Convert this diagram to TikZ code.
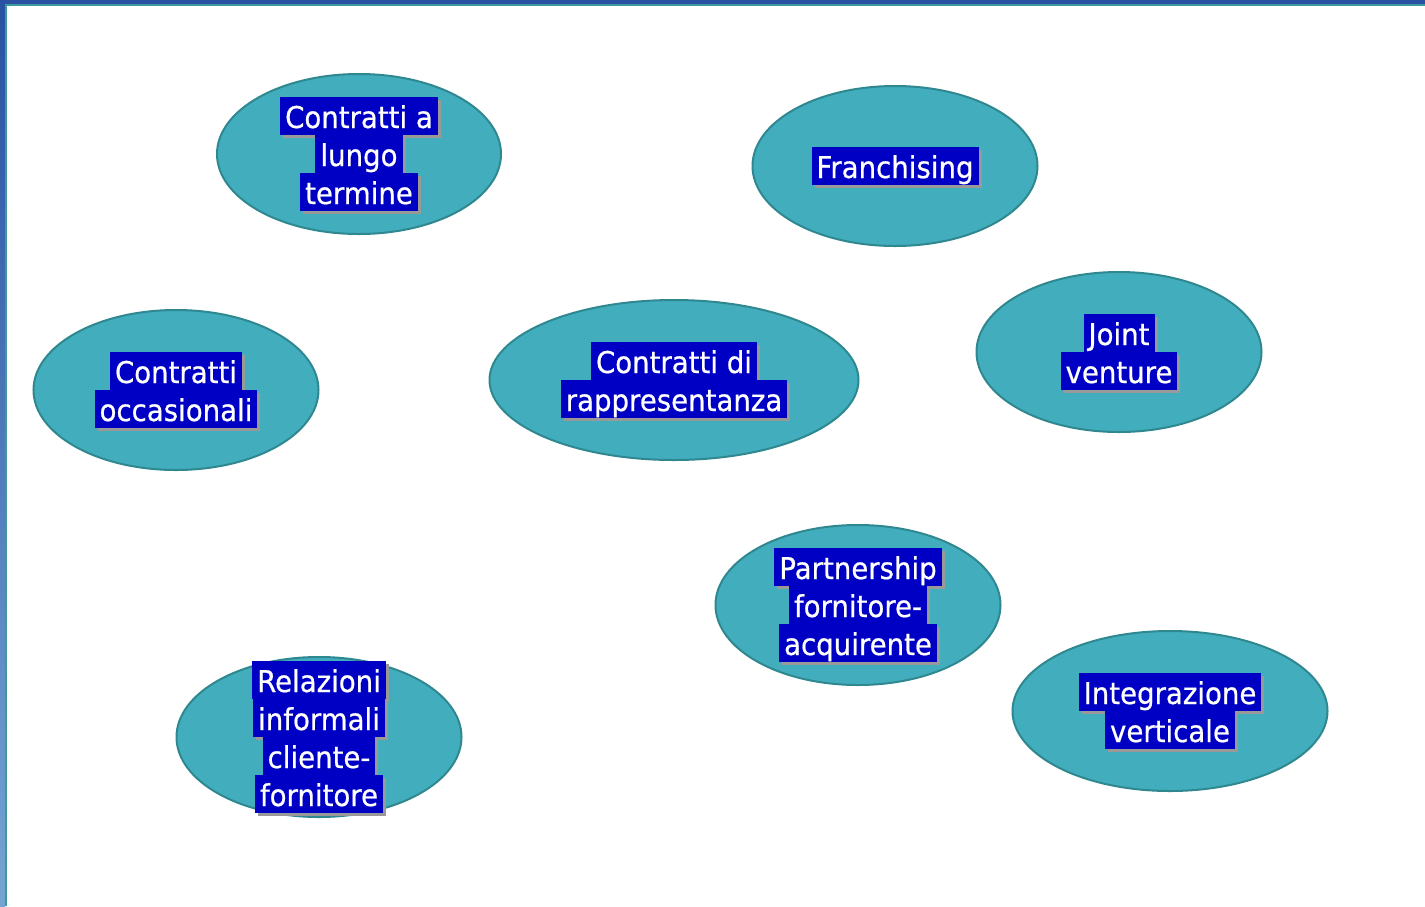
\documentclass[tikz,border=0pt]{standalone}
\usepackage{fontspec}
\setmainfont[FakeStretch=0.92,FakeBold=0.6]{DejaVu Sans}
\definecolor{blobfill}{HTML}{42AEBD}
\definecolor{blobline}{HTML}{2F8890}
\definecolor{hlblue}{HTML}{0000C4}
\definecolor{framebl}{HTML}{2A51A2}
\definecolor{framelt}{HTML}{76A4D2}
\definecolor{frametl}{HTML}{3A9AA0}
\newlength\hlw
% one highlighted line with its shadow
\newcommand\hl[1]{\sbox0{\setlength\fboxsep{0pt}\colorbox{hlblue}{\rule[-7pt]{0pt}{38pt}\,#1\,}}%
  \setlength\hlw{\wd0}%
  \makebox[0pt][l]{\hspace{3pt}\smash{\raisebox{-3pt}{\color{black!40}\rule[-7pt]{\hlw}{38pt}}}}\usebox0}
\tikzset{
  blob/.style={ellipse,draw=blobline,line width=2pt,fill=blobfill,minimum height=160pt,inner sep=0pt},
  lbl/.style={text=white,align=center,inner sep=0pt,font=\fontsize{30}{38}\selectfont}
}
\usetikzlibrary{shapes.geometric}
\begin{document}
\begin{tikzpicture}[x=1pt,y=-1pt]
\useasboundingbox (0,0) rectangle (1425,906);
\fill[white] (0,0) rectangle (1425,906);
% frame
\shade[top color=framebl,bottom color=framelt] (0,0) rectangle (5,906);
\fill[framebl] (0,0) rectangle (1425,4);
\draw[frametl,line width=1.5pt] (6,906) -- (6,5) -- (1425,5);
% ellipses
\foreach \nm/\x/\y/\w/\txt in {
  lungo/359/154/284/{\hl{Contratti a}\\\hl{lungo}\\\hl{termine}},
  franch/895/166/285/{\hl{Franchising}},
  occas/176/390/285/{\hl{Contratti}\\\hl{occasionali}},
  rappr/674/380/369/{\hl{Contratti di}\\\hl{rappresentanza}},
  joint/1119/352/285/{\hl{Joint}\\\hl{venture}},
  partn/858/605/285/{\hl{Partnership}\\\hl{fornitore-}\\\hl{acquirente}},
  relaz/319/737/285/{\hl{Relazioni}\\\hl{informali}\\\hl{cliente-}\\\hl{fornitore}},
  integr/1170/711/315/{\hl{Integrazione}\\\hl{verticale}}} {
  \node[blob,minimum width=\w pt] (\nm) at (\x,\y) {};
  \node[lbl] (\nm-t) at (\nm) {\txt};
}
\end{tikzpicture}
\end{document}
